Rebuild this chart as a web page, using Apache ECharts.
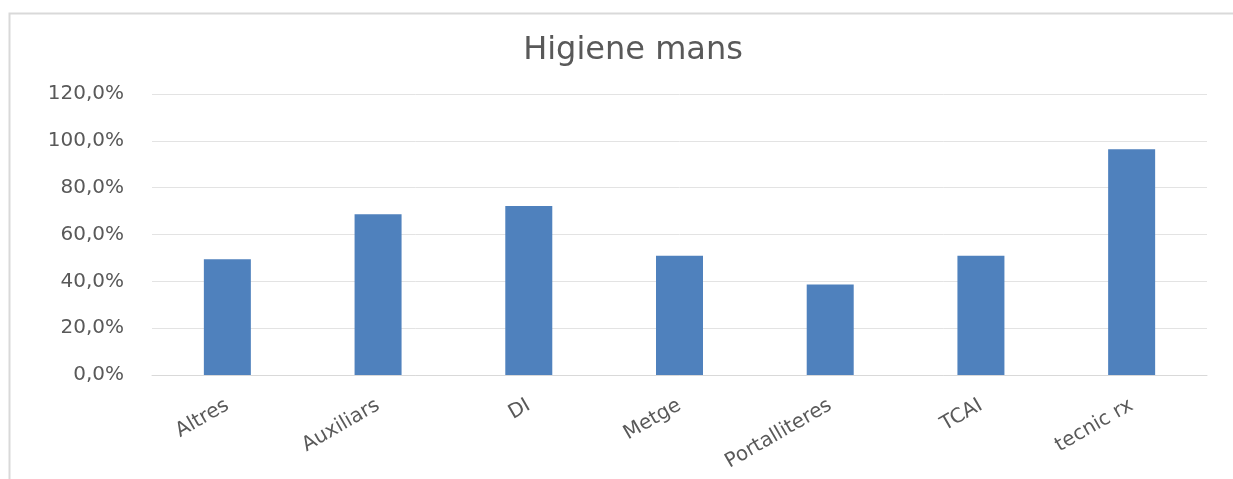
<!DOCTYPE html>
<html>
<head>
<meta charset="utf-8">
<title>Higiene mans</title>
<script src="https://cdn.jsdelivr.net/npm/echarts@6/dist/echarts.min.js"></script>
<style>
  html, body { margin: 0; padding: 0; background: #ffffff; }
  #chart { width: 1233px; height: 479px; }
</style>
</head>
<body>
<div id="chart"></div>
<script>
// Hand hygiene compliance by professional group (percent)
const categories = ['Altres', 'Auxiliars', 'DI', 'Metge', 'Portalliteres', 'TCAI', 'tecnic rx'];
const compliance = [49.4, 68.6, 72.2, 50.9, 38.7, 50.9, 96.4];
const yTicks = { min: 0, max: 120, interval: 20 };

const fmtPct = v => v.toFixed(1).replace('.', ',') + '%';

const chart = echarts.init(document.getElementById('chart'), null, { renderer: 'canvas' });

chart.setOption({
  backgroundColor: '#ffffff',
  animation: false,
  textStyle: { fontFamily: 'DejaVu Sans' },
  title: {
    text: 'Higiene mans',
    left: 628,
    top: 30,
    textAlign: 'center',
    textStyle: { color: '#595959', fontSize: 32, fontWeight: 'normal', fontFamily: 'DejaVu Sans' }
  },
  graphic: [{
    type: 'rect',
    left: 7, top: 11,
    shape: { width: 1240, height: 480 },
    style: { fill: 'none', stroke: '#d9d9d9', lineWidth: 2 },
    silent: true,
    z: -1
  }],
  grid: { left: 152, right: 26, top: 94, bottom: 104 },
  xAxis: {
    type: 'category',
    data: categories,
    axisLine: { lineStyle: { color: '#d9d9d9', width: 1 } },
    axisTick: { show: false },
    axisLabel: {
      color: '#595959', fontSize: 20, rotate: 30, margin: 29, interval: 0,
      fontFamily: 'DejaVu Sans'
    }
  },
  yAxis: {
    type: 'value',
    min: yTicks.min, max: yTicks.max, interval: yTicks.interval,
    axisLine: { show: false },
    axisTick: { show: false },
    splitLine: { lineStyle: { color: '#e3e3e3', width: 1 } },
    axisLabel: {
      color: '#595959', fontSize: 20, margin: 28,
      fontFamily: 'DejaVu Sans',
      formatter: fmtPct
    }
  },
  series: [{
    type: 'bar',
    data: compliance,
    barWidth: 47,
    itemStyle: { color: '#4f81bd' }
  }]
});
</script>
</body>
</html>
